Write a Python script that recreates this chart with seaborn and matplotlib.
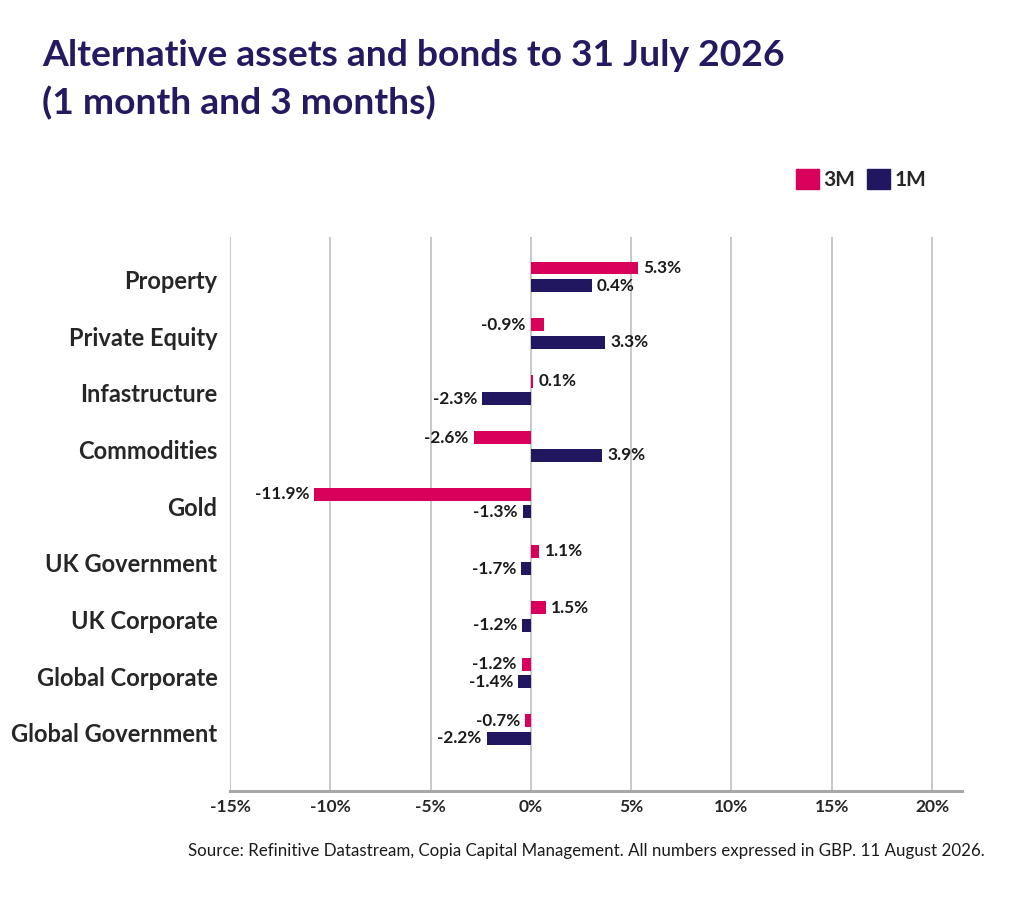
import matplotlib
matplotlib.use("Agg")
import matplotlib.pyplot as plt
import matplotlib.patches as mpatches
import matplotlib.transforms as mtransforms
import pandas as pd
import seaborn as sns

# ──────────────────────────────────────────────
# Dados
# ──────────────────────────────────────────────
categorias = [
    "Property", "Private Equity", "Infastructure", "Commodities", "Gold",
    "UK Government", "UK Corporate", "Global Corporate", "Global Government",
]
valores_3m = [5.35, 0.68, 0.13, -2.85, -10.8, 0.43, 0.75, -0.45, -0.27]
valores_1m = [3.03, 3.7, -2.42, 3.55, -0.4, -0.48, -0.42, -0.63, -2.2]
rotulos_3m = ["5.3%", "-0.9%", "0.1%", "-2.6%", "-11.9%", "1.1%", "1.5%", "-1.2%", "-0.7%"]
rotulos_1m = ["0.4%", "3.3%", "-2.3%", "3.9%", "-1.3%", "-1.7%", "-1.2%", "-1.4%", "-2.2%"]
series = ["3M", "1M"]
ticks_x = [-15, -10, -5, 0, 5, 10, 15, 20]

ROSA = "#D9005B"
MARINHO = "#211660"
TITULO = "#251A62"

df = pd.DataFrame({
    "categoria": categorias * 2,
    "valor": valores_3m + valores_1m,
    "serie": ["3M"] * len(categorias) + ["1M"] * len(categorias),
})

sns.set_style("white")
plt.rcParams["font.family"] = ["Lato", "DejaVu Sans"]

fig = plt.figure(figsize=(10.24, 8.99), dpi=100)
ax = fig.add_axes([0.2246, 0.1201, 0.9395 - 0.2246, 0.7364 - 0.1201])

sns.barplot(
    data=df, x="valor", y="categoria", hue="serie", hue_order=series,
    order=categorias, orient="h", palette=[ROSA, MARINHO], saturation=1,
    width=0.62, gap=0.26, linewidth=0, ax=ax, legend=False, zorder=3,
)

ax.set_xlim(-15, 21.5)
ax.set_ylim(9.085, -0.703)
ax.set_xticks(ticks_x)
ax.set_xticklabels([f"{t}%" for t in ticks_x], fontsize=12.5, fontweight="bold")
ax.tick_params(axis="x", length=0, pad=6)
ax.tick_params(axis="y", length=0, pad=9, labelsize=17)
# Rótulos de categoria levemente abaixo do centro do par de barras
deslocamento = mtransforms.ScaledTranslation(0, -3 / 100, fig.dpi_scale_trans)
for rot in ax.get_yticklabels():
    rot.set_fontweight("bold")
    rot.set_transform(rot.get_transform() + deslocamento)
ax.set_xlabel("")
ax.set_ylabel("")

ax.grid(axis="x", color="#C4C4C4", linewidth=1.3, zorder=0)
ax.grid(axis="y", visible=False)
for lado in ["top", "right", "left"]:
    ax.spines[lado].set_visible(False)
ax.spines["bottom"].set_color("#A8A8A8")
ax.spines["bottom"].set_linewidth(2.2)

# Rótulos das barras
for container, rotulos in zip(ax.containers, [rotulos_3m, rotulos_1m]):
    for barra, texto in zip(container, rotulos):
        x0 = barra.get_x()
        x1 = x0 + barra.get_width()
        y = barra.get_y() + barra.get_height() / 2
        if texto.startswith("-"):
            ax.text(min(x0, x1, 0) - 0.25, y, texto, ha="right", va="center",
                    fontsize=12.3, fontweight="bold", color="#1A1A1A")
        else:
            ax.text(max(x0, x1, 0) + 0.25, y, texto, ha="left", va="center",
                    fontsize=12.3, fontweight="bold", color="#1A1A1A")

# Legenda
handles = [mpatches.Patch(color=ROSA), mpatches.Patch(color=MARINHO)]
fig.legend(
    handles, series, loc="center left", bbox_to_anchor=(0.759, 0.800),
    ncol=2, frameon=False, handlelength=1.1, handleheight=1.1,
    handletextpad=0.2, columnspacing=0.6, prop={"weight": "bold", "size": 15},
)

fig.text(0.041, 0.927, "Alternative assets and bonds to 31 July 2026",
         fontsize=26.8, fontweight="bold", color=TITULO, va="baseline")
fig.text(0.041, 0.873, "(1 month and 3 months)",
         fontsize=26.8, fontweight="bold", color=TITULO, va="baseline")

fig.text(0.962, 0.053,
         "Source: Refinitive Datastream, Copia Capital Management. All numbers expressed in GBP. 11 August 2026.",
         fontsize=12.2, ha="right", va="center", color="#1A1A1A")

fig.savefig("out.png", dpi=100)
plt.close(fig)
